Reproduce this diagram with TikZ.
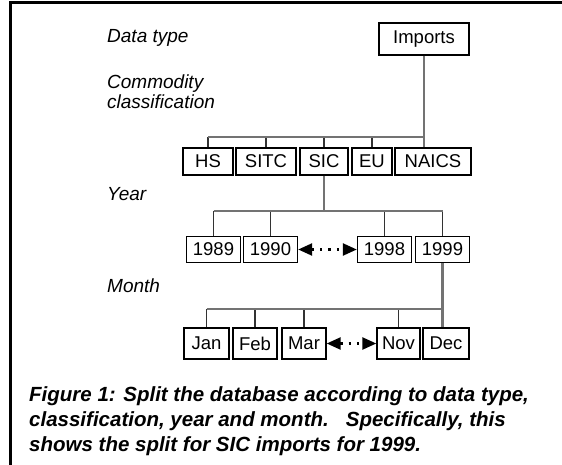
\documentclass[tikz,border=0pt]{standalone}
\usepackage{fontspec}
\setmainfont{Liberation Sans}
\usetikzlibrary{arrows.meta}
\begin{document}
\begin{tikzpicture}[x=1pt,y=-1pt,
  box/.style={draw=black, line width=1.4pt, fill=white, inner sep=0pt,
    minimum height=27pt, font=\fontsize{18.5}{18.5}\selectfont},
  trunk/.style={draw=black!55, line width=2.6pt},
  tick/.style={draw=black!80, line width=1.5pt},
  lbl/.style={font=\itshape\fontsize{19}{20}\selectfont, anchor=west,
    align=left, inner sep=0pt},
  skip/.style={line width=2.4pt, dash pattern=on 2.4pt off 6pt,
    {Triangle[length=14pt,width=12pt]}-{Triangle[length=14pt,width=12pt]}},
]
\useasboundingbox (0,0) rectangle (562,465);
\fill[white] (0,0) rectangle (562,465);
% frame edges
\draw[line width=3pt] (10,465) -- (10,3) -- (562,3);

% level labels
\node[lbl] (ldt) at (107,38) {Data type};
\node[lbl] (lcc) at (107,92) {Commodity\\classification};
\node[lbl] (lyr) at (107,194) {Year};
\node[lbl] (lmo) at (107,286) {Month};

% data type
\node[box, minimum width=90pt, minimum height=32pt] (imp) at (424,39) {Imports};

% classifications
\node[box, minimum width=50pt] (hs)  at (208,161.5) {HS};
\node[box, minimum width=60pt] (sitc) at (266,161.5) {SITC};
\node[box, minimum width=48pt] (sic) at (324,161.5) {SIC};
\node[box, minimum width=40pt] (eu)  at (372,161.5) {EU};
\node[box, minimum width=76pt] (naics) at (433,161.5) {NAICS};

% years
\node[box, minimum width=54pt, minimum height=26pt] (y89) at (213.5,249.5) {1989};
\node[box, minimum width=54pt, minimum height=26pt] (y90) at (270.5,249.5) {1990};
\node[box, minimum width=54pt, minimum height=26pt] (y98) at (384.5,249.5) {1998};
\node[box, minimum width=54pt, minimum height=26pt] (y99) at (442.5,249.5) {1999};

% months
\node[box, minimum width=45pt, minimum height=31pt] (jan) at (206.5,343.5) {Jan};
\node[box, minimum width=44pt, minimum height=31pt] (feb) at (255,343.5) {Feb};
\node[box, minimum width=44pt, minimum height=31pt] (mar) at (304,343.5) {Mar};
\node[box, minimum width=43pt, minimum height=31pt] (nov) at (398.5,343.5) {Nov};
\node[box, minimum width=46pt, minimum height=31pt] (dec) at (446,343.5) {Dec};

% bar heights
\coordinate (b1) at (0,137);
\coordinate (b2) at (0,211);
\coordinate (b3) at (0,309);

% imports -> classifications
\draw[tick] (hs.north) -- (hs.north |- b1);
\draw[tick] (sitc.north) -- (sitc.north |- b1);
\draw[tick] (sic.north) -- (sic.north |- b1);
\draw[tick] (eu.north) -- (eu.north |- b1);
\draw[trunk] (hs.north |- b1) -- (imp.south |- b1);
\draw[trunk] (imp.south) -- (imp.south |- naics.north);

% SIC -> years
\draw[tick] (y89.north) -- (y89.north |- b2);
\draw[tick] (y90.north) -- (y90.north |- b2);
\draw[tick] (y98.north) -- (y98.north |- b2);
\draw[tick] (y99.north) -- (y99.north |- b2);
\draw[trunk] (y89.north |- b2) -- (y99.north |- b2);
\draw[trunk] (sic.south) -- (sic.south |- b2);

% 1999 -> months
\draw[tick] (jan.north) -- (jan.north |- b3);
\draw[tick] (feb.north) -- (feb.north |- b3);
\draw[tick] (mar.north) -- (mar.north |- b3);
\draw[tick] (nov.north) -- (nov.north |- b3);
\draw[trunk] (jan.north |- b3) -- (y99.south |- b3);
\draw[trunk] (y99.south) -- (y99.south |- dec.north);

% omitted ranges
\draw[skip] (y90.east) -- (y98.west);
\draw[skip] (mar.east) -- (nov.west);

% caption
\node[anchor=west, align=left, inner sep=0pt,
  font=\bfseries\itshape\fontsize{20.5}{25}\selectfont] (cap) at (29,421)
  {Figure 1: Split the database according to data type,\\
   classification, year and month.\ \ \ Specifically, this\\
   shows the split for SIC imports for 1999.};
\end{tikzpicture}
\end{document}
